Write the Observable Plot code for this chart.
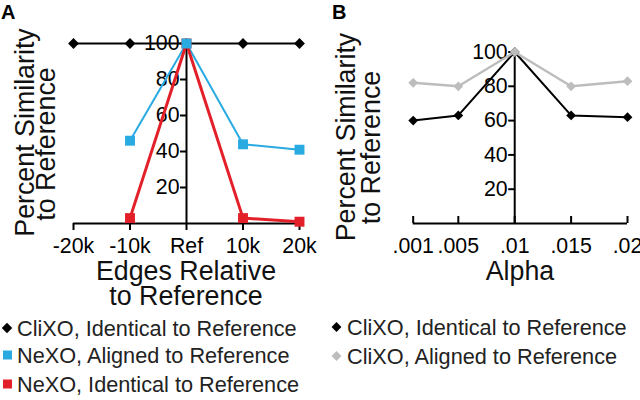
<!DOCTYPE html>
<html><head><meta charset="utf-8">
<script src="https://cdn.jsdelivr.net/npm/d3@7"></script>
<script src="https://cdn.jsdelivr.net/npm/@observablehq/plot@0.6"></script>
<style>
body{margin:0;background:#fff;}
#root{position:relative;width:640px;height:400px;overflow:hidden;font-family:"Liberation Sans",Arial,sans-serif;}
#root>svg{position:absolute;top:0;}
</style></head><body><div id="root"></div>
<script>
// ---- Panel A data ----
const edgeTicks = [-20000, -10000, 0, 10000, 20000];
const edgeLabels = ["-20k", "-10k", "Ref", "10k", "20k"];
const clixoEdges = [-20000, -10000, 0, 10000, 20000];
const clixoIdentA = [100, 100, 100, 100, 100];
const nexoEdges = [-10000, 0, 10000, 20000];
const nexoAligned = [46, 100, 44, 41];
const nexoIdentical = [3, 100, 3, 1];
const yTicks = [20, 40, 60, 80, 100];
// ---- Panel B data ----
const alphaTicks = [0.001, 0.005, 0.01, 0.015, 0.02];
const alphaLabels = [".001", ".005", ".01", ".015", ".02"];
const clixoIdentB = [60, 63, 100, 63, 62];
const clixoAlignedB = [82, 80, 100, 80, 83];
// ---- Legends ----
const legendA = ["CliXO, Identical to Reference", "NeXO, Aligned to Reference", "NeXO, Identical to Reference"];
const legendB = ["CliXO, Identical to Reference", "CliXO, Aligned to Reference"];

const FONT = '"Liberation Sans", Arial, sans-serif';
const BLUE = "#29aae1", RED = "#e3202a", GRAY = "#bdbdbd";

const blackA = clixoEdges.map((x, i) => ({x, y: clixoIdentA[i]}));
const blueA = nexoEdges.map((x, i) => ({x, y: nexoAligned[i]}));
const redA = nexoEdges.map((x, i) => ({x, y: nexoIdentical[i]}));
const blackB = alphaTicks.map((x, i) => ({x, y: clixoIdentB[i]}));
const grayB = alphaTicks.map((x, i) => ({x, y: clixoAlignedB[i]}));

const root = document.getElementById("root");

const plotA = Plot.plot({
  width: 320, height: 260,
  marginLeft: 73, marginRight: 21, marginTop: 43, marginBottom: 37,
  style: {fontFamily: FONT, fontSize: "21px", color: "#000", background: "transparent", overflow: "visible"},
  x: {domain: [-20000, 20000], axis: null},
  y: {domain: [0, 100], axis: null},
  marks: [
    Plot.ruleY([0], {strokeWidth: 2}),
    Plot.ruleX([0], {strokeWidth: 2}),
    Plot.axisX({ticks: edgeTicks, tickFormat: d => edgeLabels[edgeTicks.indexOf(d)], tickSize: 7, tickPadding: 7, strokeWidth: 2, label: null, fontSize: 21.3}),
    Plot.axisY({x: 0, ticks: yTicks, tickSize: 6, tickPadding: 1, strokeWidth: 2, label: null, fontSize: 21.3}),
    Plot.line(blackA, {x: "x", y: "y", stroke: "#000", strokeWidth: 2}),
    Plot.line(blueA, {x: "x", y: "y", stroke: BLUE, strokeWidth: 2}),
    Plot.line(redA, {x: "x", y: "y", stroke: RED, strokeWidth: 3}),
    Plot.dot(blackA, {x: "x", y: "y", symbol: "square", rotate: 45, r: 4.3, fill: "#000", stroke: "none"}),
    Plot.dot(redA, {x: "x", y: "y", symbol: "square", r: 5.6, fill: RED, stroke: "none"}),
    Plot.dot(blueA, {x: "x", y: "y", symbol: "square", r: 5.6, fill: BLUE, stroke: "none"})
  ]
});
plotA.style.left = "0px";
root.appendChild(plotA);

const frameHB = 260 - 51.5 - 37;
const plotB = Plot.plot({
  width: 320, height: 260,
  marginLeft: 92.7, marginRight: 13, marginTop: 51.5, marginBottom: 37,
  style: {fontFamily: FONT, fontSize: "21px", color: "#000", background: "transparent", overflow: "visible"},
  x: {domain: [0.001, 0.02], axis: null},
  y: {domain: [0, 100], axis: null},
  marks: [
    Plot.ruleY([0], {strokeWidth: 2}),
    Plot.ruleX([0.01], {strokeWidth: 2}),
    // inward (upward) x ticks
    Plot.ruleX(alphaTicks, {insetTop: frameHB - 7, strokeWidth: 2}),
    Plot.axisX({ticks: alphaTicks, tickFormat: d => alphaLabels[alphaTicks.indexOf(d)], tickSize: 0, tickPadding: 14, label: null, fontSize: 21.3}),
    Plot.axisY({x: 0.01, ticks: yTicks, tickSize: 6, tickPadding: 1, strokeWidth: 2, label: null, fontSize: 21.3}),
    Plot.line(blackB, {x: "x", y: "y", stroke: "#000", strokeWidth: 2}),
    Plot.line(grayB, {x: "x", y: "y", stroke: GRAY, strokeWidth: 2.5}),
    Plot.dot(blackB, {x: "x", y: "y", symbol: "square", rotate: 45, r: 3.9, fill: "#000", stroke: "none"}),
    Plot.dot(grayB, {x: "x", y: "y", symbol: "square", rotate: 45, r: 3.9, fill: GRAY, stroke: "none"})
  ]
});
plotB.style.left = "320px";
root.appendChild(plotB);

// ---- Overlay text: panel letters, axis titles, legends ----
const svg = d3.create("svg").attr("width", 640).attr("height", 400)
  .style("left", "0px").style("font-family", FONT).style("overflow", "visible");
const t = (x, y, s, size, opts = {}) => {
  const e = svg.append("text").attr("x", x).attr("y", y).text(s)
    .attr("font-size", size).attr("fill", opts.fill || "#111");
  if (opts.anchor) e.attr("text-anchor", opts.anchor);
  if (opts.weight) e.attr("font-weight", opts.weight);
  if (opts.rotate) e.attr("transform", `rotate(-90 ${x} ${y})`);
  return e;
};
t(1, 19, "A", 20, {weight: "bold", fill: "#000"});
t(332, 19, "B", 20, {weight: "bold", fill: "#000"});
// y titles
t(34, 132.5, "Percent Similarity", 26.8, {anchor: "middle", rotate: true});
t(55, 144, "to Reference", 26.8, {anchor: "middle", rotate: true});
t(355, 137, "Percent Similarity", 26.8, {anchor: "middle", rotate: true});
t(380, 147.5, "to Reference", 26.8, {anchor: "middle", rotate: true});
// x titles
t(186, 280, "Edges Relative", 26.8, {anchor: "middle"});
t(186, 305, "to Reference", 26.8, {anchor: "middle"});
t(520, 280, "Alpha", 26.8, {anchor: "middle"});
// legends
const rowsA = [336, 363, 392];
const symA = [{c: "#000", d: true}, {c: BLUE, d: false}, {c: RED, d: false}];
legendA.forEach((s, i) => {
  const cy = rowsA[i] - 8;
  if (symA[i].d) svg.append("rect").attr("x", -3.7).attr("y", -3.7).attr("width", 7.4).attr("height", 7.4)
    .attr("transform", `translate(7,${cy}) rotate(45)`).attr("fill", symA[i].c);
  else svg.append("rect").attr("x", 3).attr("y", cy - 4.5).attr("width", 9).attr("height", 9).attr("fill", symA[i].c);
  t(17, rowsA[i], s, 21.7, {fill: "#222"});
});
const rowsB = [335, 364];
const symB = ["#000", GRAY];
legendB.forEach((s, i) => {
  const cy = rowsB[i] - 8;
  svg.append("rect").attr("x", -3.5).attr("y", -3.5).attr("width", 7).attr("height", 7)
    .attr("transform", `translate(336.5,${cy}) rotate(45)`).attr("fill", symB[i]);
  t(347, rowsB[i], s, 21.7, {fill: "#222"});
});
root.appendChild(svg.node());
</script></body></html>
